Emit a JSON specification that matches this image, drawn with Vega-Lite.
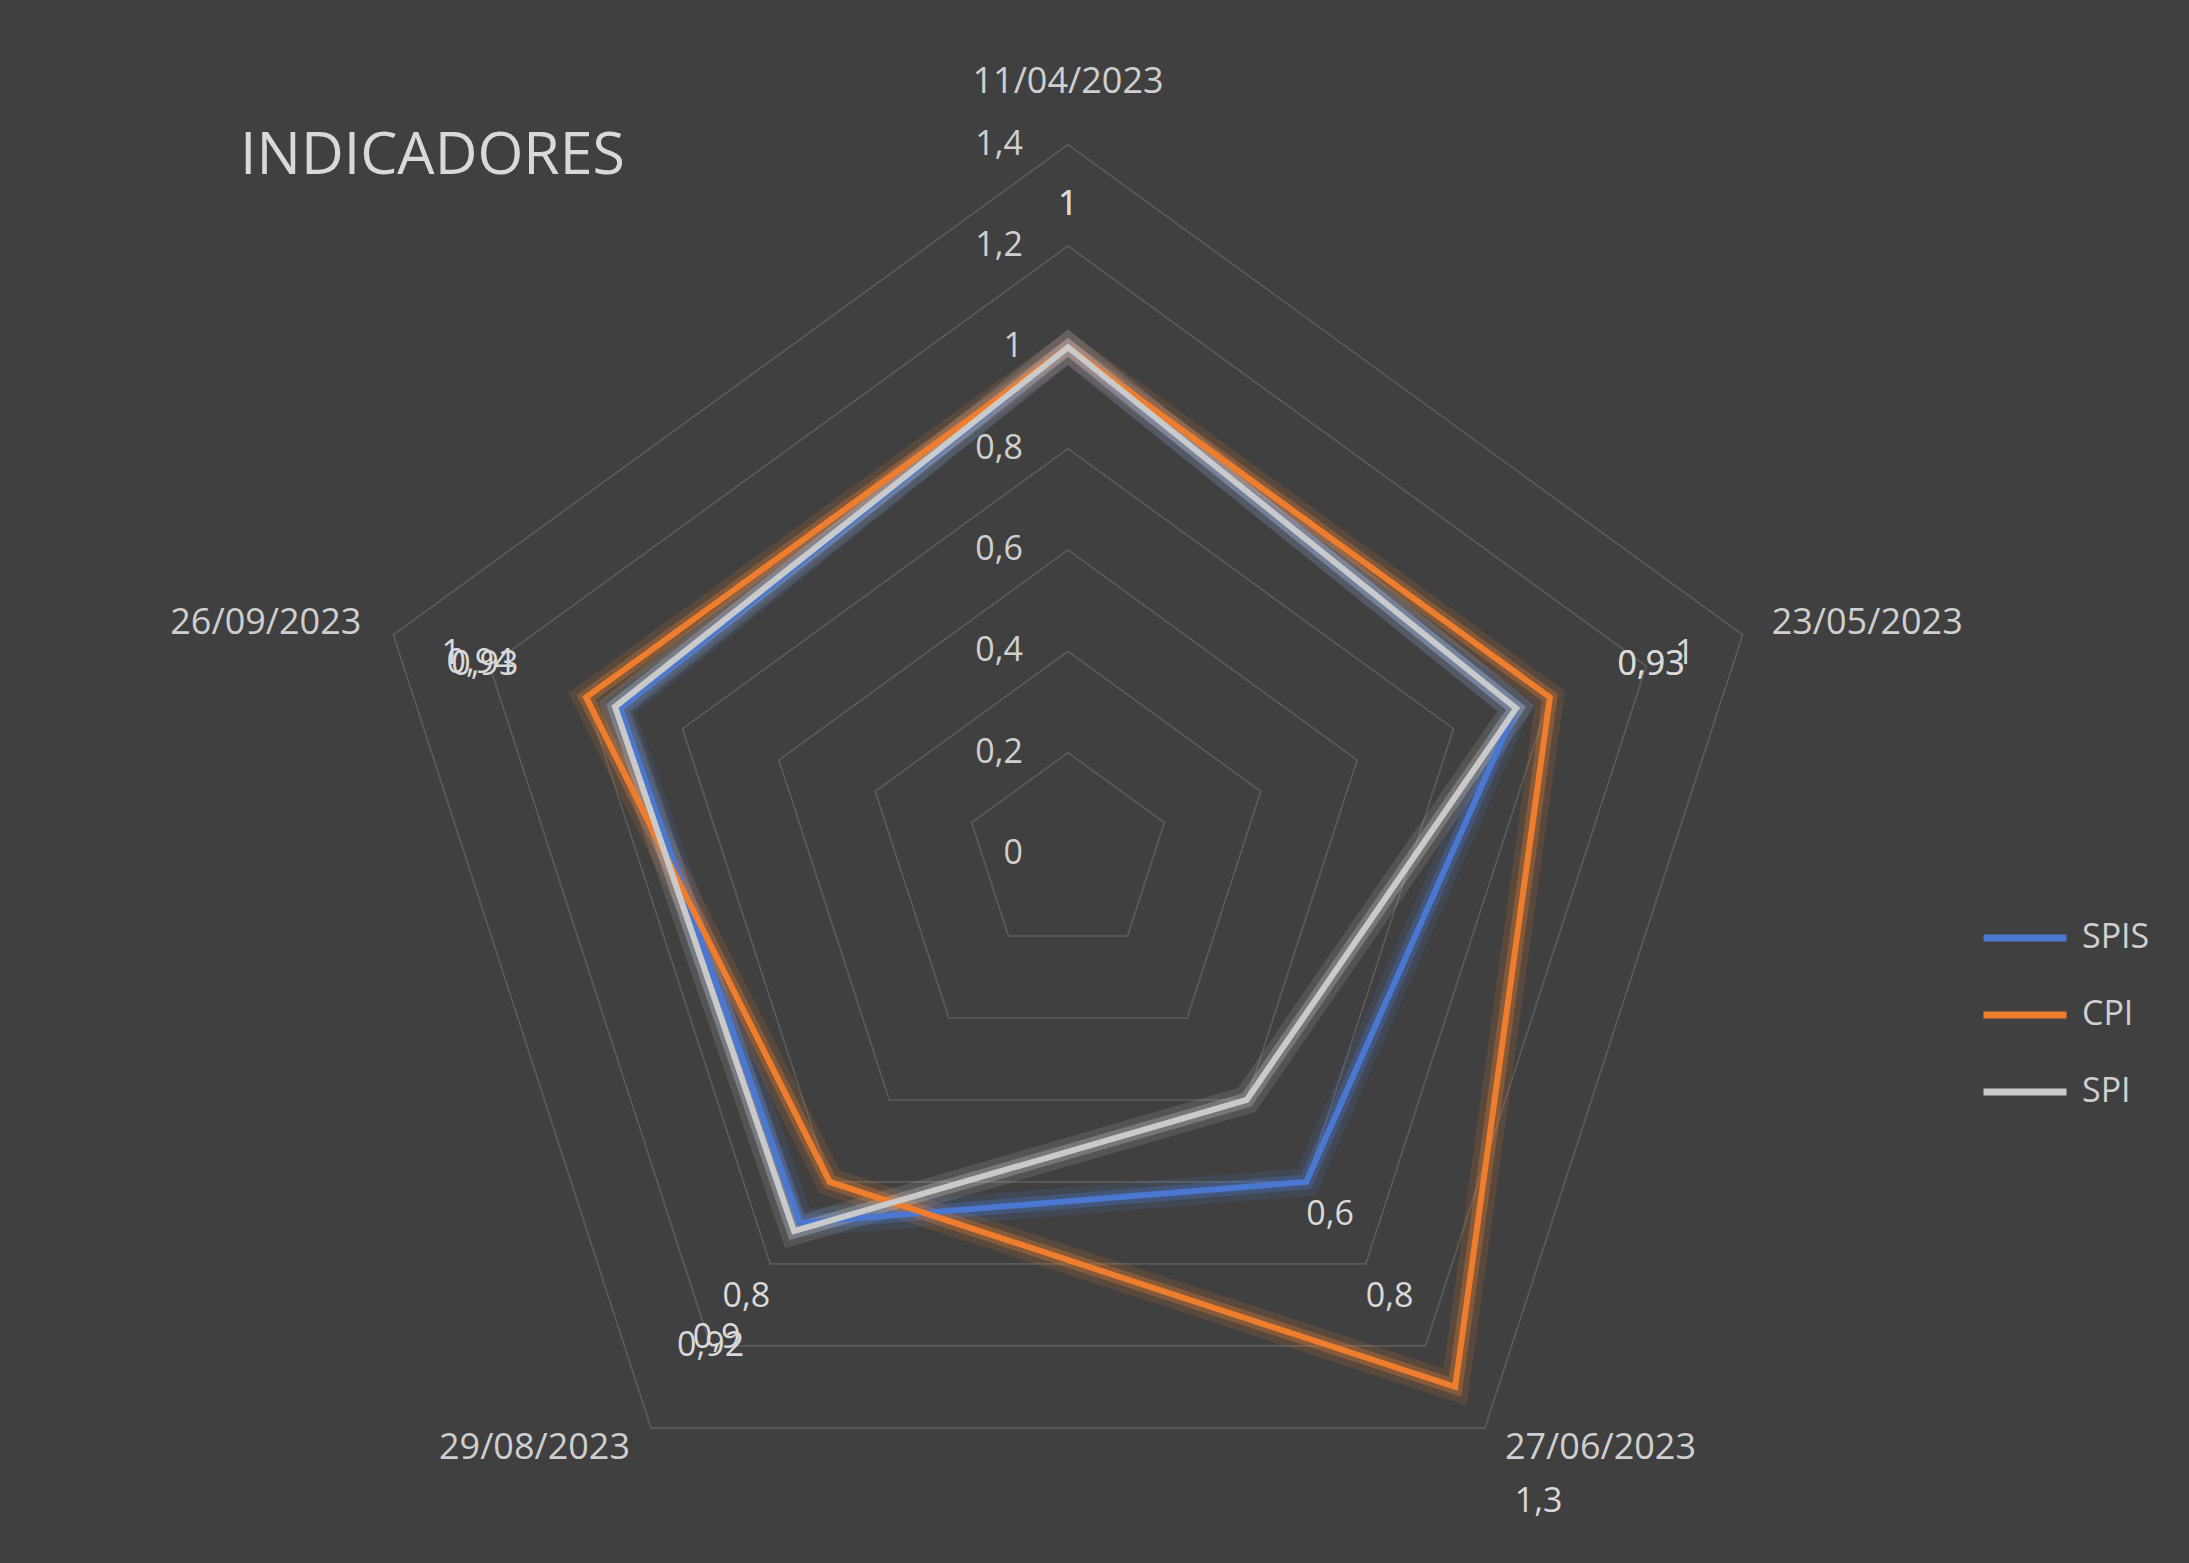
{
  "$schema": "https://vega.github.io/schema/vega-lite/v6.json",
  "width": 2189,
  "height": 1563,
  "autosize": "none",
  "padding": 0,
  "background": "#404040",
  "config": {
    "view": {"stroke": null},
    "font": "Open Sans",
    "locale": {"number": {"decimal": ",", "thousands": ".", "grouping": [3], "currency": ["", " €"]}},
    "legend": {
      "title": null,
      "orient": "none",
      "legendX": 1980,
      "legendY": 893,
      "symbolType": "stroke",
      "symbolSize": 6889,
      "symbolStrokeWidth": 7,
      "symbolOpacity": 1,
      "labelFontSize": 34,
      "labelColor": "#d0d0d0",
      "labelFont": "Open Sans",
      "labelOffset": 12,
      "rowPadding": 15,
      "padding": 0
    }
  },
  "title": {
    "text": "INDICADORES",
    "anchor": "start",
    "frame": "group",
    "orient": "top",
    "offset": -233,
    "dx": 240,
    "baseline": "alphabetic",
    "fontSize": 59,
    "fontWeight": "normal",
    "font": "Open Sans",
    "color": "#d9d9d9"
  },
  "datasets": {
    "series": [
      {"fecha": "11/04/2023", "idx": 0, "serie": "SPIS", "valor": 1},
      {"fecha": "23/05/2023", "idx": 1, "serie": "SPIS", "valor": 0.93},
      {"fecha": "27/06/2023", "idx": 2, "serie": "SPIS", "valor": 0.8},
      {"fecha": "29/08/2023", "idx": 3, "serie": "SPIS", "valor": 0.9},
      {"fecha": "26/09/2023", "idx": 4, "serie": "SPIS", "valor": 0.93},
      {"fecha": "11/04/2023", "idx": 0, "serie": "CPI", "valor": 1},
      {"fecha": "23/05/2023", "idx": 1, "serie": "CPI", "valor": 1},
      {"fecha": "27/06/2023", "idx": 2, "serie": "CPI", "valor": 1.3},
      {"fecha": "29/08/2023", "idx": 3, "serie": "CPI", "valor": 0.8},
      {"fecha": "26/09/2023", "idx": 4, "serie": "CPI", "valor": 1},
      {"fecha": "11/04/2023", "idx": 0, "serie": "SPI", "valor": 1},
      {"fecha": "23/05/2023", "idx": 1, "serie": "SPI", "valor": 0.93},
      {"fecha": "27/06/2023", "idx": 2, "serie": "SPI", "valor": 0.6},
      {"fecha": "29/08/2023", "idx": 3, "serie": "SPI", "valor": 0.92},
      {"fecha": "26/09/2023", "idx": 4, "serie": "SPI", "valor": 0.94}
    ],
    "grid": [
      {"level": 0.2, "idx": [0, 1, 2, 3, 4]},
      {"level": 0.4, "idx": [0, 1, 2, 3, 4]},
      {"level": 0.6, "idx": [0, 1, 2, 3, 4]},
      {"level": 0.8, "idx": [0, 1, 2, 3, 4]},
      {"level": 1.0, "idx": [0, 1, 2, 3, 4]},
      {"level": 1.2, "idx": [0, 1, 2, 3, 4]},
      {"level": 1.4, "idx": [0, 1, 2, 3, 4]}
    ],
    "ticks": [
      {"level": 0}, {"level": 0.2}, {"level": 0.4}, {"level": 0.6},
      {"level": 0.8}, {"level": 1.0}, {"level": 1.2}, {"level": 1.4}
    ],
    "axes": [
      {"fecha": "11/04/2023", "idx": 0},
      {"fecha": "23/05/2023", "idx": 1},
      {"fecha": "27/06/2023", "idx": 2},
      {"fecha": "29/08/2023", "idx": 3},
      {"fecha": "26/09/2023", "idx": 4}
    ]
  },
  "layer": [
    {
      "data": {"name": "grid"},
      "transform": [
        {"flatten": ["idx"]},
        {"calculate": "datum.level * sin(datum.idx * 2 * PI / 5)", "as": "x"},
        {"calculate": "datum.level * cos(datum.idx * 2 * PI / 5)", "as": "y"}
      ],
      "mark": {"type": "line", "interpolate": "linear-closed", "stroke": "#5c5c5c", "strokeWidth": 1.6},
      "encoding": {
        "x": {"field": "x", "type": "quantitative", "scale": {"domain": [-2.1078, 2.2124], "nice": false, "zero": false}, "axis": null},
        "y": {"field": "y", "type": "quantitative", "scale": {"domain": [-1.3993, 1.6854], "nice": false, "zero": false}, "axis": null},
        "detail": {"field": "level", "type": "nominal"},
        "order": {"field": "idx", "type": "quantitative"}
      }
    },
    {
      "data": {"name": "ticks"},
      "mark": {"type": "text", "align": "right", "baseline": "middle", "dx": -45, "fontSize": 34, "color": "#cfcfcf"},
      "encoding": {
        "x": {"datum": 0, "type": "quantitative"},
        "y": {"field": "level", "type": "quantitative"},
        "text": {"field": "level", "type": "quantitative", "format": ".1~f"}
      }
    },
    {
      "data": {"name": "series"},
      "transform": [
        {"calculate": "datum.valor * sin(datum.idx * 2 * PI / 5)", "as": "x"},
        {"calculate": "datum.valor * cos(datum.idx * 2 * PI / 5)", "as": "y"}
      ],
      "mark": {"type": "line", "interpolate": "linear-closed", "strokeWidth": 28, "strokeOpacity": 0.14, "strokeJoin": "miter"},
      "encoding": {
        "x": {"field": "x", "type": "quantitative"},
        "y": {"field": "y", "type": "quantitative"},
        "color": {"field": "serie", "type": "nominal", "scale": {"domain": ["SPIS", "CPI", "SPI"], "range": ["#4a78d0", "#ee7e2e", "#cacaca"]}},
        "order": {"field": "idx", "type": "quantitative"}
      }
    },
    {
      "data": {"name": "series"},
      "transform": [
        {"calculate": "datum.valor * sin(datum.idx * 2 * PI / 5)", "as": "x"},
        {"calculate": "datum.valor * cos(datum.idx * 2 * PI / 5)", "as": "y"}
      ],
      "mark": {"type": "line", "interpolate": "linear-closed", "strokeWidth": 15, "strokeOpacity": 0.3, "strokeJoin": "miter"},
      "encoding": {
        "x": {"field": "x", "type": "quantitative"},
        "y": {"field": "y", "type": "quantitative"},
        "color": {"field": "serie", "type": "nominal"},
        "order": {"field": "idx", "type": "quantitative"}
      }
    },
    {
      "data": {"name": "series"},
      "transform": [
        {"calculate": "datum.valor * sin(datum.idx * 2 * PI / 5)", "as": "x"},
        {"calculate": "datum.valor * cos(datum.idx * 2 * PI / 5)", "as": "y"}
      ],
      "mark": {"type": "line", "interpolate": "linear-closed", "strokeWidth": 6, "strokeJoin": "miter"},
      "encoding": {
        "x": {"field": "x", "type": "quantitative"},
        "y": {"field": "y", "type": "quantitative"},
        "color": {"field": "serie", "type": "nominal"},
        "order": {"field": "idx", "type": "quantitative"}
      }
    },
    {
      "data": {"name": "series"},
      "transform": [
        {"calculate": "(datum.valor + 0.28) * sin(datum.idx * 2 * PI / 5)", "as": "lx"},
        {"calculate": "(datum.valor + 0.28) * cos(datum.idx * 2 * PI / 5)", "as": "ly"}
      ],
      "mark": {"type": "text", "align": "center", "baseline": "middle", "fontSize": 34, "color": "#d9d9d9"},
      "encoding": {
        "x": {"field": "lx", "type": "quantitative"},
        "y": {"field": "ly", "type": "quantitative"},
        "text": {"field": "valor", "type": "quantitative", "format": ".2~f"}
      }
    },
    {
      "data": {"name": "axes"},
      "transform": [
        {"filter": "datum.idx == 0"},
        {"calculate": "1.4 * sin(datum.idx * 2 * PI / 5)", "as": "vx"},
        {"calculate": "1.4 * cos(datum.idx * 2 * PI / 5)", "as": "vy"}
      ],
      "mark": {"type": "text", "align": "center", "baseline": "middle", "dy": -63, "fontSize": 36, "color": "#cfcfcf"},
      "encoding": {
        "x": {"field": "vx", "type": "quantitative"},
        "y": {"field": "vy", "type": "quantitative"},
        "text": {"field": "fecha", "type": "nominal"}
      }
    },
    {
      "data": {"name": "axes"},
      "transform": [
        {"filter": "datum.idx == 1"},
        {"calculate": "1.4 * sin(datum.idx * 2 * PI / 5)", "as": "vx"},
        {"calculate": "1.4 * cos(datum.idx * 2 * PI / 5)", "as": "vy"}
      ],
      "mark": {"type": "text", "align": "left", "baseline": "middle", "dx": 29, "dy": -12, "fontSize": 36, "color": "#cfcfcf"},
      "encoding": {
        "x": {"field": "vx", "type": "quantitative"},
        "y": {"field": "vy", "type": "quantitative"},
        "text": {"field": "fecha", "type": "nominal"}
      }
    },
    {
      "data": {"name": "axes"},
      "transform": [
        {"filter": "datum.idx == 2"},
        {"calculate": "1.4 * sin(datum.idx * 2 * PI / 5)", "as": "vx"},
        {"calculate": "1.4 * cos(datum.idx * 2 * PI / 5)", "as": "vy"}
      ],
      "mark": {"type": "text", "align": "left", "baseline": "middle", "dx": 20, "dy": 20, "fontSize": 36, "color": "#cfcfcf"},
      "encoding": {
        "x": {"field": "vx", "type": "quantitative"},
        "y": {"field": "vy", "type": "quantitative"},
        "text": {"field": "fecha", "type": "nominal"}
      }
    },
    {
      "data": {"name": "axes"},
      "transform": [
        {"filter": "datum.idx == 3"},
        {"calculate": "1.4 * sin(datum.idx * 2 * PI / 5)", "as": "vx"},
        {"calculate": "1.4 * cos(datum.idx * 2 * PI / 5)", "as": "vy"}
      ],
      "mark": {"type": "text", "align": "right", "baseline": "middle", "dx": -21, "dy": 20, "fontSize": 36, "color": "#cfcfcf"},
      "encoding": {
        "x": {"field": "vx", "type": "quantitative"},
        "y": {"field": "vy", "type": "quantitative"},
        "text": {"field": "fecha", "type": "nominal"}
      }
    },
    {
      "data": {"name": "axes"},
      "transform": [
        {"filter": "datum.idx == 4"},
        {"calculate": "1.4 * sin(datum.idx * 2 * PI / 5)", "as": "vx"},
        {"calculate": "1.4 * cos(datum.idx * 2 * PI / 5)", "as": "vy"}
      ],
      "mark": {"type": "text", "align": "right", "baseline": "middle", "dx": -32, "dy": -12, "fontSize": 36, "color": "#cfcfcf"},
      "encoding": {
        "x": {"field": "vx", "type": "quantitative"},
        "y": {"field": "vy", "type": "quantitative"},
        "text": {"field": "fecha", "type": "nominal"}
      }
    }
  ]
}
